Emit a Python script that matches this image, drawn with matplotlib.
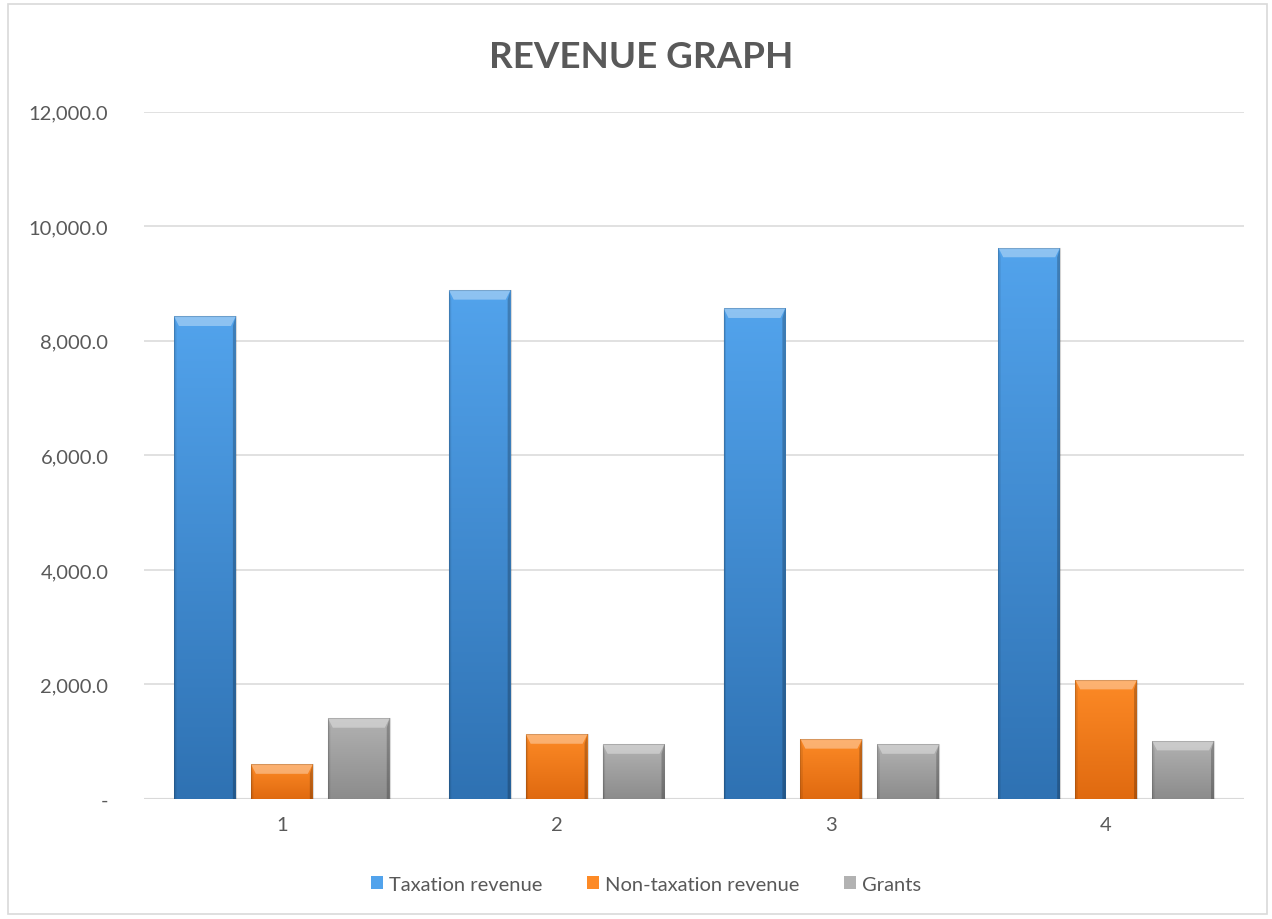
import numpy as np
import matplotlib.pyplot as plt
from matplotlib.patches import Rectangle, Polygon
from matplotlib.colors import to_rgb

categories = ['1', '2', '3', '4']
taxation = [8430, 8890, 8570, 9630]
non_taxation = [610, 1135, 1050, 2085]
grants = [1415, 960, 960, 1020]
series_names = ['Taxation revenue', 'Non-taxation revenue', 'Grants']
y_ticks = [0, 2000, 4000, 6000, 8000, 10000, 12000]

# light top -> dark bottom shading for each series
shades = [('#52a3ec', '#2f72b3'), ('#fd8a26', '#e06a10'), ('#b2b2b2', '#8c8c8c')]
text_grey = '#595959'

plt.rcParams['font.family'] = ['Lato', 'DejaVu Sans']

fig = plt.figure(figsize=(12.72, 9.2), dpi=100)
ax = fig.add_axes([0.1136, 0.1304, 0.8640, 0.7470])

x = np.arange(len(categories)) + 1
width = 0.225
step = 0.28


def shade_bar(patch, top, bottom):
    x0, y0 = patch.get_x(), patch.get_y()
    w, h = patch.get_width(), patch.get_height()
    c1, c2 = np.array(to_rgb(top)), np.array(to_rgb(bottom))
    t = np.linspace(0, 1, 64)[:, None]
    grad = (c1 * (1 - t) + c2 * t)[:, None, :]
    im = ax.imshow(grad, extent=[x0, x0 + w, y0, y0 + h], origin='upper',
                   aspect='auto', zorder=3, interpolation='bilinear')
    im.set_clip_path(patch)
    # bevelled top edge and darker sides
    bh = min(h * 0.4, 170)
    bw = w * 0.08
    top_y = y0 + h
    ax.add_patch(Polygon([(x0, top_y), (x0 + w, top_y), (x0 + w - bw, top_y - bh),
                          (x0 + bw, top_y - bh)], closed=True, color='white',
                         alpha=0.35, lw=0, zorder=4))
    ax.add_patch(Polygon([(x0, y0), (x0 + bw * 0.5, y0), (x0 + bw * 0.5, top_y - bh),
                          (x0, top_y)], closed=True, color='black', alpha=0.08,
                         lw=0, zorder=4))
    ax.add_patch(Polygon([(x0 + w, y0), (x0 + w - bw * 0.6, y0),
                          (x0 + w - bw * 0.6, top_y - bh), (x0 + w, top_y)],
                         closed=True, color='black', alpha=0.22, lw=0, zorder=4))
    ax.add_patch(Rectangle((x0, y0), w, h, fill=False, edgecolor='black', alpha=0.15,
                           lw=0.8, zorder=5))


for i, vals in enumerate([taxation, non_taxation, grants]):
    bars = ax.bar(x + (i - 1) * step, vals, width, color=shades[i][0],
                  edgecolor='none', zorder=2, label=series_names[i])
    for b in bars:
        shade_bar(b, *shades[i])

ax.set_xlim(0.5, 4.5)
ax.set_ylim(0, 12000)
ax.set_yticks(y_ticks)
ax.set_yticklabels(['-'] + ['{:,.1f}'.format(v) for v in y_ticks[1:]])
ax.set_xticks(x)
ax.set_xticklabels(categories)
ax.tick_params(length=0, labelsize=14.5, colors=text_grey, pad=12)
ax.tick_params(axis='y', pad=26)
ax.grid(axis='y', color='#dcdcdc', lw=1.2, zorder=0)
for s in ax.spines.values():
    s.set_visible(False)
ax.axhline(0, color='#d0d0d0', lw=1.5, zorder=1)

fig.text(0.504, 0.937, 'REVENUE GRAPH', ha='center', va='center', fontsize=26.5,
         fontweight='bold', color=text_grey)

leg = fig.legend(loc='center', bbox_to_anchor=(0.508, 0.038), ncol=3, frameon=False,
                 fontsize=14.5, handlelength=0.6, handleheight=0.6, columnspacing=2.2,
                 handletextpad=0.3)
for t in leg.get_texts():
    t.set_color(text_grey)

# chart area border
fig.add_artist(Rectangle((0.006, 0.005), 0.99, 0.99, transform=fig.transFigure,
                         fill=False, edgecolor='#d9d9d9', lw=1.2))

fig.savefig('out.png', dpi=100, facecolor='white')
